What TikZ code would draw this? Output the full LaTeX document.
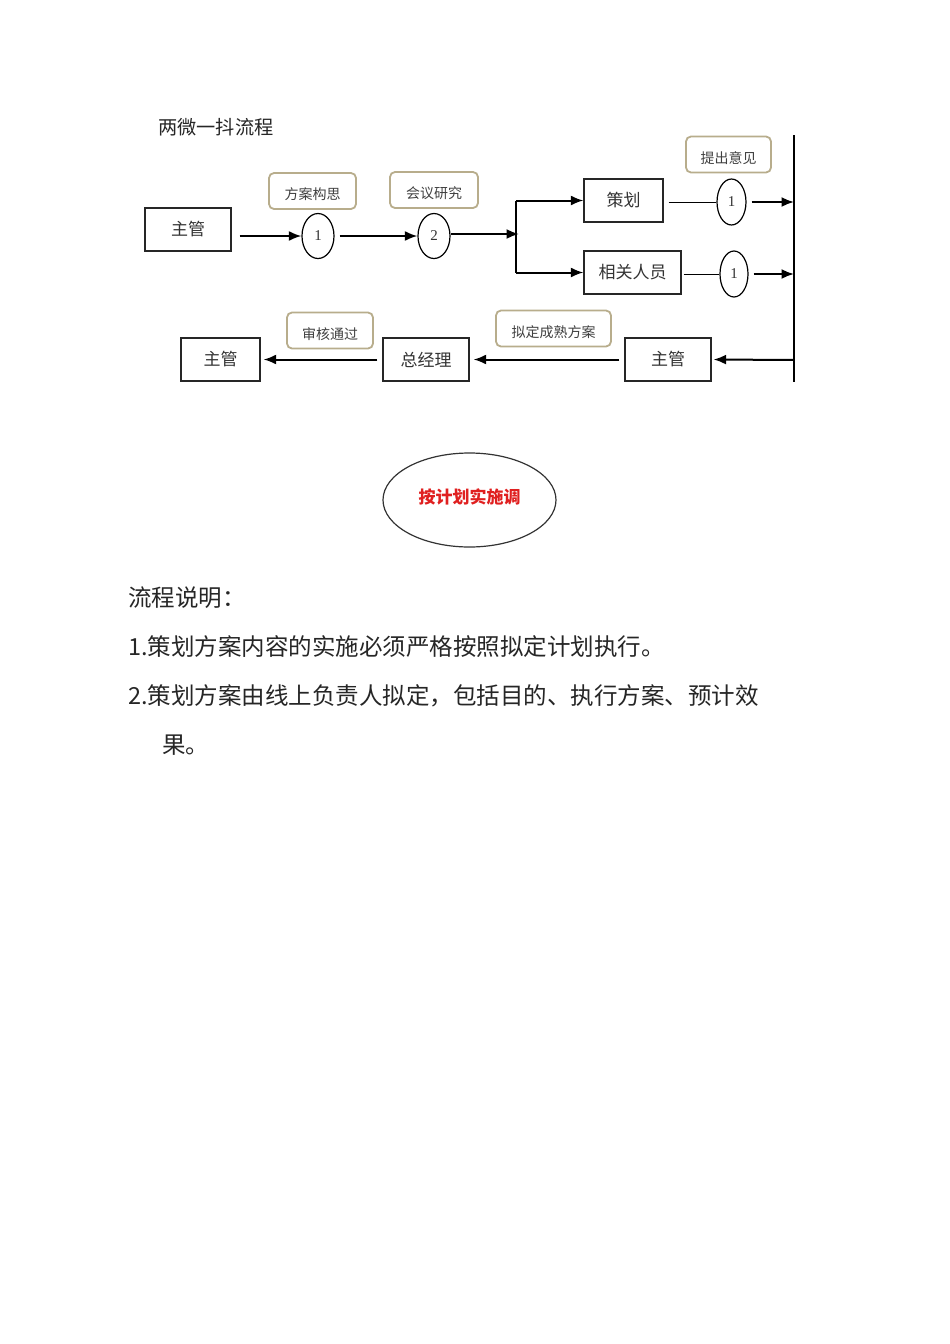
\documentclass[tikz,border=0pt]{standalone}
\usepackage{fontspec}
\setmainfont{Liberation Serif}
\newfontfamily\cjk{Noto Sans CJK SC}
\usetikzlibrary{arrows.meta,shapes.geometric}
\definecolor{tanline}{HTML}{B8AD8C}
\definecolor{redtxt}{HTML}{E02020}
\tikzset{
  box/.style={draw=black!85,line width=1.2pt,minimum height=43pt,inner sep=0pt,font=\cjk\fontsize{17}{17}\selectfont,text=black!80},
  lbl/.style={draw=tanline,line width=1.8pt,rounded corners=5pt,minimum height=36pt,inner sep=0pt,text height=17pt,text depth=0pt,font=\cjk\fontsize{14}{14}\selectfont,text=black!75},
  circ/.style={draw=black,ellipse,line width=1.2pt,inner sep=0pt,font=\fontsize{15}{15}\selectfont,text=black!80},
  arr/.style={line width=2pt,-{Latex[length=12.5pt,width=10pt]}},
  thin/.style={line width=1pt},
  body/.style={anchor=west,font=\cjk\fontsize{23.5}{23.5}\selectfont,text=black!85,inner sep=0pt}
}
\begin{document}
\begin{tikzpicture}[x=1pt,y=-1pt]
\useasboundingbox (0,0) rectangle (950,1344);
\fill[white] (0,0) rectangle (950,1344);
% title
\node[anchor=west,inner sep=0pt,font=\cjk\fontsize{19.2}{19.2}\selectfont,text=black!85] (title) at (158,127) {两微一抖流程};
% top row
\node[box,minimum width=86pt] (zg1) at (188,229.5) {主管};
\node[circ,minimum width=32pt,minimum height=45pt] (c1) at (318,236) {1};
\node[lbl,minimum width=87pt] (l1) at (312.5,191) {方案构思};
\node[circ,minimum width=32pt,minimum height=45pt] (c2) at (434,236) {2};
\node[lbl,minimum width=88pt] (l2) at (434,190) {会议研究};
\coordinate (br) at (516,234);
\node[box,minimum width=79pt] (ch) at (623.5,200.5) {策划};
\node[box,minimum width=97pt] (xg) at (632.5,272.5) {相关人员};
\node[circ,minimum width=29pt,minimum height=46pt] (c3) at (731.5,202) {1};
\node[lbl,minimum width=85pt] (l3) at (728.5,154.5) {提出意见};
\node[circ,minimum width=28pt,minimum height=46pt] (c4) at (734,274) {1};
\coordinate (vt) at (794,135);
\coordinate (vb) at (794,382);
\coordinate (v1) at (794,202);
\coordinate (v2) at (794,274);
\coordinate (v3) at (794,360);
% bottom row
\node[box,minimum width=86pt] (zg2) at (668,359.5) {主管};
\node[box,minimum width=86pt] (zjl) at (426,359.5) {总经理};
\node[box,minimum width=79pt] (zg3) at (220.5,359.5) {主管};
\node[lbl,minimum width=115pt] (l4) at (553.5,328.5) {拟定成熟方案};
\node[lbl,minimum width=86pt] (l5) at (330,330.5) {审核通过};
% connectors
\draw[arr] (c1.west -| zg1.east) ++(8,0) -- (c1.west);
\draw[arr] (c1.east) ++(5,0) -- (c2.west);
\draw[line width=2pt] (c2.east) ++(0,-2) -- (br);
\draw[arr] (c2.east) ++(2,-2) -- ([xshift=3pt]br);
\draw[line width=2pt] (br |- ch.west) -- (br |- xg.west);
\draw[arr] (br |- ch.west) -- (ch.west);
\draw[arr] (br |- xg.west) -- (xg.west);
\draw[thin] ([xshift=5pt]ch.east |- c3) -- (c3.west);
\draw[arr] ([xshift=5pt]c3.east) -- (v1);
\draw[thin] ([xshift=2pt]xg.east |- c4) -- (c4.west);
\draw[arr] ([xshift=5pt]c4.east) -- (v2);
\draw[line width=1.5pt] (vt) -- (vb);
\draw[arr] (v3) -- ([xshift=2pt]zg2.east);
\draw[arr] ([xshift=-5pt]zg2.west) -- ([xshift=4pt]zjl.east);
\draw[arr] ([xshift=-5pt]zjl.west) -- ([xshift=3pt]zg3.east);
% ellipse
\node[draw=black!80,ellipse,line width=1.2pt,minimum width=173pt,minimum height=94pt,inner sep=0pt,text height=10pt,text depth=4pt,text=redtxt,font=\cjk\bfseries\fontsize{17}{17}\selectfont] (el) at (469.5,500) {按计划实施调};
% body text
\node[body] (b0) at (128,598) {流程说明：};
\node[body] (b1) at (128,647) {1.策划方案内容的实施必须严格按照拟定计划执行。};
\node[body] (b2) at (128,696) {2.策划方案由线上负责人拟定，包括目的、执行方案、预计效};
\node[body] (b3) at (162,745) {果。};
\end{tikzpicture}
\end{document}
